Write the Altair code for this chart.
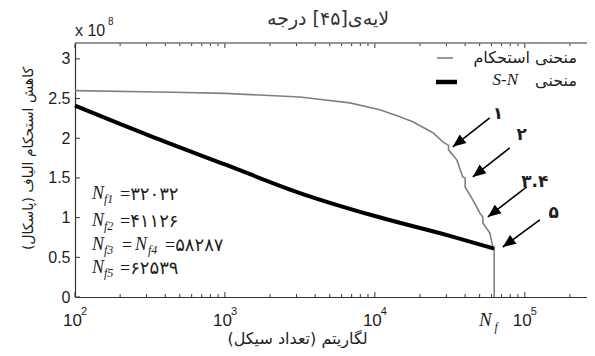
import math
import altair as alt
import pandas as pd

# ---------------- data ----------------
strength_N = [100, 450, 1000, 3160, 6810, 10800, 14700, 17900, 24400, 28400, 31000, 31000,
              35200, 38600, 40000, 40000, 45000, 50100, 52500, 52500, 58400, 61200, 62539, 62539]
strength_S = [2.60, 2.58, 2.565, 2.52, 2.446, 2.358, 2.27, 2.207, 2.07, 1.955, 1.91, 1.854,
              1.728, 1.513, 1.50, 1.387, 1.223, 1.059, 1.009, 0.933, 0.807, 0.63, 0.61, 0.0]

sn_N = [100, 316, 1000, 3160, 10000, 31600, 62539]
sn_S = [2.41, 2.03, 1.67, 1.31, 1.02, 0.77, 0.61]

x_major = [100, 1000, 10000, 100000]
x_exponent = ["2", "3", "4", "5"]
x_minor = [200, 300, 400, 500, 600, 700, 800, 900,
           2000, 3000, 4000, 5000, 6000, 7000, 8000, 9000,
           20000, 30000, 40000, 50000, 60000, 70000, 80000, 90000, 200000]
y_ticks = [0, 0.5, 1, 1.5, 2, 2.5, 3]
Nf_value = 62539

arrow_tail_N = [58400, 79400, 103000, 126000]
arrow_tail_S = [2.257, 1.879, 1.387, 0.971]
arrow_tip_N = [33100, 45000, 56700, 71300]
arrow_tip_S = [1.892, 1.513, 1.009, 0.63]
arrow_label = ["۱", "۲", "۳.۴", "۵"]
arrow_label_N = [66100, 95500, 116600, 156000]
arrow_label_S = [2.31, 2.04, 1.45, 1.06]

note_S = [1.30, 0.958, 0.656, 0.366]
note_sub = ["f1", "f2", "f3", "f5"]
note_val = ["=۳۲۰۳۲", "=۴۱۱۲۶", "", "=۶۲۵۳۹"]
note3_val = "=۵۸۲۸۷"

title_text = "لایه‌ی[۴۵] درجه"
x_title = "لگاریتم (تعداد سیکل)"
y_title = "کاهش استحکام الیاف (پاسکال)"
legend_1 = "منحنی استحکام"
legend_2 = "منحنی"

# ---------------- layout ----------------
W, H = 512, 254
XMIN, XMAX = 100, 2.6e5
YMIN, YMAX = 0, 3.2
AX = "#333333"
TXT = "#1e1e1e"
AR_FONT = "DejaVu Sans"
MIX_FONT = "'Liberation Serif', 'DejaVu Sans'"

xs = alt.Scale(type="log", domain=[XMIN, XMAX], nice=False)
ys = alt.Scale(domain=[YMIN, YMAX], nice=False)


def px(n):
    return W * (math.log10(n) - math.log10(XMIN)) / (math.log10(XMAX) - math.log10(XMIN))


def py(s):
    return H * (1 - (s - YMIN) / (YMAX - YMIN))


angles = []
for a, b, c, d in zip(arrow_tail_N, arrow_tip_N, arrow_tail_S, arrow_tip_S):
    ddx = px(b) - px(a)
    ddy = py(d) - py(c)
    angles.append(math.degrees(math.atan2(ddx, -ddy)) % 360)

df_str = pd.DataFrame({"N": strength_N, "S": strength_S, "i": list(range(len(strength_N)))})
df_sn = pd.DataFrame({"N": sn_N, "S": sn_S, "i": list(range(len(sn_N)))})
df_major = pd.DataFrame({"N": x_major, "e": x_exponent})
df_minor = pd.DataFrame({"N": x_minor})
df_y = pd.DataFrame({"S": y_ticks})
df_arrow = pd.DataFrame({"N": arrow_tail_N, "S": arrow_tail_S, "N2": arrow_tip_N,
                         "S2": arrow_tip_S, "ang": angles})
df_alab = pd.DataFrame({"N": arrow_label_N, "S": arrow_label_S, "t": arrow_label})
df_note = pd.DataFrame({"N": [100] * 4, "S": note_S, "sub": note_sub, "val": note_val})
df_note3 = pd.DataFrame({"N": [100], "S": [note_S[2]], "val": [note3_val]})
df_nf = pd.DataFrame({"N": [Nf_value]})
df_top = pd.DataFrame({"N": [XMIN], "N2": [XMAX], "S": [YMAX]})
one = pd.DataFrame({"a": [0]})

xaxis = alt.Axis(values=x_major, labelExpr="'10'", labelOffset=-3, ticks=False, tickSize=0,
                 domain=True, domainColor=AX, domainWidth=1.2, grid=False, labelFlush=False,
                 labelFont="Liberation Sans", labelFontSize=17, labelColor=TXT, labelPadding=15,
                 title=x_title, titleFont=AR_FONT, titleFontSize=16, titleFontWeight="normal",
                 titleColor=TXT, titleX=222, titleY=41, titleBaseline="middle", titleAlign="center")
yaxis = alt.Axis(values=y_ticks, format="~g", ticks=False, tickSize=0, domain=True,
                 domainColor=AX, domainWidth=1.2, grid=False, labelFlush=False,
                 labelFont="Liberation Sans", labelFontSize=16, labelColor=TXT, labelPadding=5,
                 title=y_title, titleFont=AR_FONT, titleFontSize=14, titleFontWeight="normal",
                 titleColor=TXT, titleX=-47, titleY=115, titleAngle=270,
                 titleBaseline="middle", titleAlign="center")


def X(field):
    return alt.X(field, type="quantitative", scale=xs, axis=xaxis)


def Y(field):
    return alt.Y(field, type="quantitative", scale=ys, axis=yaxis)


layers = []

# strength curve
layers.append(alt.Chart(df_str).mark_line(color="#808080", strokeWidth=1.6).encode(
    x=X("N"), y=Y("S"), order=alt.Order("i:Q")))

# S-N curve
layers.append(alt.Chart(df_sn).mark_line(color="black", strokeWidth=4,
                                         interpolate="monotone").encode(
    x=X("N"), y=Y("S"), order=alt.Order("i:Q")))

# top frame line
layers.append(alt.Chart(df_top).mark_rule(color=AX, strokeWidth=1.2).encode(
    x=X("N"), x2="N2:Q", y=Y("S")))

# inward ticks: bottom / top
for dfx, ln in ((df_major, 5), (df_minor, 3)):
    layers.append(alt.Chart(dfx).mark_rule(color=AX, strokeWidth=1).encode(
        x=X("N"), y=alt.value(H), y2=alt.value(H - ln)))
    layers.append(alt.Chart(dfx).mark_rule(color=AX, strokeWidth=1).encode(
        x=X("N"), y=alt.value(0.5), y2=alt.value(ln)))
# inward ticks: left
layers.append(alt.Chart(df_y).mark_rule(color=AX, strokeWidth=1).encode(
    y=Y("S"), x=alt.value(0), x2=alt.value(5)))

# exponents of x labels
layers.append(alt.Chart(df_major).mark_text(align="left", baseline="middle", dx=6,
                                            font="Liberation Sans", fontSize=11, color=TXT).encode(
    x=X("N"), y=alt.value(269), text="e:N"))

# N_f label on the x axis
layers.append(alt.Chart(df_nf).mark_text(align="center", baseline="middle", dx=-9,
                                         font="Liberation Serif", fontStyle="italic",
                                         fontSize=19, color=TXT).encode(
    x=X("N"), y=alt.value(277), text=alt.value("N")))
layers.append(alt.Chart(df_nf).mark_text(align="center", baseline="middle", dx=2,
                                         font="Liberation Serif", fontStyle="italic",
                                         fontSize=12, color=TXT).encode(
    x=X("N"), y=alt.value(284), text=alt.value("f")))

# "x 10^8"
layers.append(alt.Chart(one).mark_text(align="left", baseline="middle", font="Liberation Sans",
                                       fontSize=16, color=TXT).encode(
    x=alt.value(0), y=alt.value(-12), text=alt.value("x 10")))
layers.append(alt.Chart(one).mark_text(align="left", baseline="middle", font="Liberation Sans",
                                       fontSize=10, color=TXT).encode(
    x=alt.value(33), y=alt.value(-21), text=alt.value("8")))

# title
layers.append(alt.Chart(one).mark_text(align="center", baseline="middle", font=AR_FONT,
                                       fontSize=19, color="#333333").encode(
    x=alt.value(253), y=alt.value(-24), text=alt.value(title_text)))

# legend
layers.append(alt.Chart(one).mark_rule(color="#808080", strokeWidth=1.6).encode(
    x=alt.value(362), x2=alt.value(378), y=alt.value(15)))
layers.append(alt.Chart(one).mark_rule(color="black", strokeWidth=4.5).encode(
    x=alt.value(361), x2=alt.value(382), y=alt.value(39)))
layers.append(alt.Chart(one).mark_text(align="right", baseline="middle", font=AR_FONT,
                                       fontSize=16, color=TXT).encode(
    x=alt.value(502), y=alt.value(15), text=alt.value(legend_1)))
layers.append(alt.Chart(one).mark_text(align="right", baseline="middle", font=AR_FONT,
                                       fontSize=16, color=TXT).encode(
    x=alt.value(502), y=alt.value(38), text=alt.value(legend_2)))
layers.append(alt.Chart(one).mark_text(align="right", baseline="middle", font="Liberation Serif",
                                       fontStyle="italic", fontSize=17, color=TXT).encode(
    x=alt.value(443), y=alt.value(37), text=alt.value("S-N")))

# arrows
layers.append(alt.Chart(df_arrow).mark_rule(color="black", strokeWidth=1.6).encode(
    x=X("N"), y=Y("S"), x2="N2:Q", y2="S2:Q"))
layers.append(alt.Chart(df_arrow).mark_point(shape="M0,0L-0.42,1L0.42,1Z", filled=True,
                                             color="black", opacity=1, size=676).encode(
    x=X("N2"), y=Y("S2"), angle=alt.Angle("ang:Q", scale=None)))
layers.append(alt.Chart(df_alab).mark_text(align="center", baseline="middle", font=AR_FONT,
                                           fontSize=17, fontWeight="bold", color=TXT).encode(
    x=X("N"), y=Y("S"), text="t:N"))

# N_f notes
layers.append(alt.Chart(df_note).mark_text(align="left", baseline="middle", dx=17,
                                           font="Liberation Serif", fontStyle="italic",
                                           fontSize=18, color=TXT).encode(
    x=X("N"), y=Y("S"), text=alt.value("N")))
layers.append(alt.Chart(df_note).mark_text(align="left", baseline="middle", dx=29, dy=5,
                                           font="Liberation Serif", fontStyle="italic",
                                           fontSize=12, color=TXT).encode(
    x=X("N"), y=Y("S"), text="sub:N"))
layers.append(alt.Chart(df_note).mark_text(align="left", baseline="middle", dx=45, dy=1,
                                           font=MIX_FONT, fontSize=18, color=TXT).encode(
    x=X("N"), y=Y("S"), text="val:N"))
layers.append(alt.Chart(df_note3).mark_text(align="left", baseline="middle", dx=47, dy=1,
                                            font=MIX_FONT, fontSize=18, color=TXT).encode(
    x=X("N"), y=Y("S"), text=alt.value("=")))
layers.append(alt.Chart(df_note3).mark_text(align="left", baseline="middle", dx=60,
                                            font="Liberation Serif", fontStyle="italic",
                                            fontSize=18, color=TXT).encode(
    x=X("N"), y=Y("S"), text=alt.value("N")))
layers.append(alt.Chart(df_note3).mark_text(align="left", baseline="middle", dx=73, dy=5,
                                            font="Liberation Serif", fontStyle="italic",
                                            fontSize=12, color=TXT).encode(
    x=X("N"), y=Y("S"), text=alt.value("f4")))
layers.append(alt.Chart(df_note3).mark_text(align="left", baseline="middle", dx=90, dy=1,
                                            font=MIX_FONT, fontSize=18, color=TXT).encode(
    x=X("N"), y=Y("S"), text="val:N"))

chart = alt.layer(*layers).properties(
    width=W, height=H,
    padding={"left": 67, "top": 35, "right": 0, "bottom": 51},
    autosize=alt.AutoSizeParams(type="none"),
).configure_view(stroke=None)

chart.save("out.html", embed_options={"renderer": "svg", "actions": False})
